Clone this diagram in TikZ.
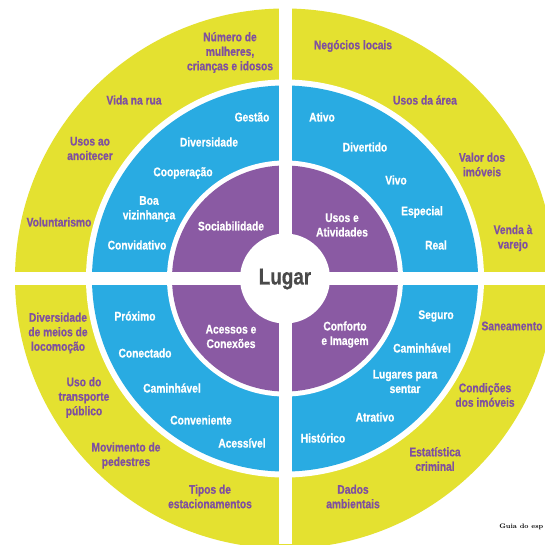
\documentclass[tikz,border=0pt]{standalone}
\usepackage{fontspec}
\newfontfamily\lbl{Liberation Sans}[FakeStretch=0.82,FakeBold=0.6]
\definecolor{ylw}{HTML}{E4E130}
\definecolor{blu}{HTML}{29ABE2}
\definecolor{prp}{HTML}{8A5AA3}
\definecolor{ptxt}{HTML}{7F50A0}
\definecolor{gtxt}{HTML}{4A4A4A}
\begin{document}
\begin{tikzpicture}[x=1pt,y=-1pt,
  lab/.style={font=\lbl\bfseries\fontsize{12.5}{14.5}\selectfont, align=center, inner sep=0pt},
  yl/.style={lab, text=ptxt},
  bl/.style={lab, text=white},
  pl/.style={lab, text=white}]
\useasboundingbox (0,0) rectangle (545,544);
\clip (0,0) rectangle (545,544);
\fill[white] (0,0) rectangle (545,544);
\coordinate (c) at (285,278.5);
\fill[ylw] (c) circle (270pt);
\fill[white] (c) circle (199pt);
\fill[blu] (c) circle (193pt);
\fill[white] (c) circle (118pt);
\fill[prp] (c) circle (113pt);
\fill[white] (c) circle (45pt);
\fill[white] (278.5,0) rectangle (291.5,544);
\fill[white] (0,272) rectangle (545,285);
\node[font=\lbl\bfseries\fontsize{23}{26}\selectfont, text=gtxt, inner sep=0pt] (lugar) at (285,279) {Lugar};
% top-left
\node[yl] (nm) at (230,52.5) {Número de\\mulheres,\\crianças e idosos};
\node[yl] (vr) at (134,100) {Vida na rua};
\node[yl] (ua) at (90,148.5) {Usos ao\\anoitecer};
\node[yl] (vo) at (59,222) {Voluntarismo};
\node[bl] (ge) at (252,117) {Gestão};
\node[bl] (di) at (209,142) {Diversidade};
\node[bl] (co) at (183,173) {Cooperação};
\node[bl] (bv) at (149,209) {Boa\\vizinhança};
\node[bl] (cv) at (137,245) {Convidativo};
\node[pl] (so) at (231,226) {Sociabilidade};
% top-right
\node[yl] (ne) at (353,46) {Negócios locais};
\node[yl] (ud) at (425,100) {Usos da área};
\node[yl] (vd) at (482,164.5) {Valor dos\\imóveis};
\node[yl] (ve) at (513,238) {Venda à\\varejo};
\node[bl] (at) at (322,117) {Ativo};
\node[bl] (dv) at (365,147) {Divertido};
\node[bl] (vi) at (396,180) {Vivo};
\node[bl] (es) at (422,212) {Especial};
\node[bl] (re) at (436,245) {Real};
\node[pl] (us) at (342,225) {Usos e\\Atividades};
% bottom-left
\node[yl] (dm) at (58,333) {Diversidade\\de meios de\\locomoção};
\node[yl] (ut) at (84,397.5) {Uso do\\transporte\\público};
\node[yl] (mp) at (126,455.5) {Movimento de\\pedestres};
\node[yl] (te) at (210,496.5) {Tipos de\\estacionamentos};
\node[bl] (px) at (135,316) {Próximo};
\node[bl] (cn) at (145,353) {Conectado};
\node[bl] (cm) at (172,388) {Caminhável};
\node[bl] (cj) at (201,420) {Conveniente};
\node[bl] (ac) at (242,443) {Acessível};
\node[pl] (ae) at (231,336.5) {Acessos e\\Conexões};
% bottom-right
\node[yl] (sa) at (512,326) {Saneamento};
\node[yl] (ci) at (485,395) {Condições\\dos imóveis};
\node[yl] (ec) at (435,459) {Estatística\\criminal};
\node[yl] (da) at (353,496.5) {Dados\\ambientais};
\node[bl] (se) at (436,316) {Seguro};
\node[bl] (cw) at (422,348) {Caminhável};
\node[bl] (lp) at (405,381.5) {Lugares para\\sentar};
\node[bl] (ar) at (375,417) {Atrativo};
\node[bl] (hi) at (323,438) {Histórico};
\node[pl] (ci2) at (345,334.5) {Conforto\\e Imagem};
\node[anchor=east, font=\bfseries\fontsize{6.5}{7}\selectfont, text=black, inner sep=0pt] (guia) at (543.5,527) {Guia do esp};
\end{tikzpicture}
\end{document}
